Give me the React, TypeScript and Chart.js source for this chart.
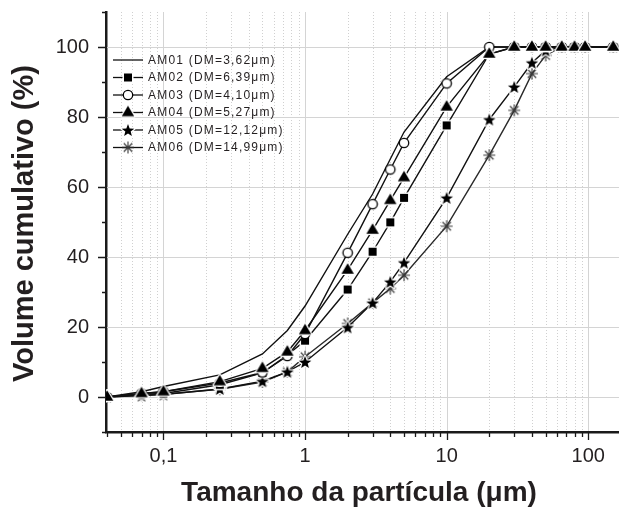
import React, { useEffect, useRef } from 'react';
import { Chart, registerables } from 'chart.js';

Chart.register(...registerables);

// Particle size classes (µm)
const sizes = [0.04, 0.07, 0.1, 0.25, 0.5, 0.75, 1, 2, 3, 4, 5, 10, 20, 30, 40, 50, 65, 80, 95, 150];

// Cumulative volume (%)
const am01 = [0, 1.5, 3, 6.3, 12.3, 19, 26, 46.5, 58, 68, 75.7, 91.5, 100, 100, 100, 100, 100, 100, 100, 100];
const am02 = [0, 0.8, 1, 3.5, 6.9, 12, 16.1, 30.7, 41.5, 49.9, 56.9, 77.6, 98, 100, 100, 100, 100, 100, 100, 100];
const am03 = [0, 1, 1.5, 4, 7, 11.7, 18, 41.2, 55.1, 65, 72.6, 89.6, 100, 100, 100, 100, 100, 100, 100, 100];
const am04 = [0, 1, 1.5, 4.4, 8.2, 12.9, 19, 36.3, 47.7, 56.2, 62.7, 82.9, 98, 100, 100, 100, 100, 100, 100, 100];
const am05 = [0, 0.4, 0.7, 2.3, 4.5, 7.2, 10, 19.9, 26.9, 32.9, 38.4, 56.9, 79.3, 88.6, 95.5, 99, 100, 100, 100, 100];
const am06 = [0, 0.5, 0.8, 2.2, 4.3, 7.2, 11.5, 21, 26.9, 31, 34.8, 48.8, 69.1, 81.9, 92.4, 97.6, 100, 100, 100, 100];

const seriesLabels = [
  'AM01 (DM=3,62\u03bcm)',
  'AM02 (DM=6,39\u03bcm)',
  'AM03 (DM=4,10\u03bcm)',
  'AM04 (DM=5,27\u03bcm)',
  'AM05 (DM=12,12\u03bcm)',
  'AM06 (DM=14,99\u03bcm)',
];
const seriesMarkers = ['none', 'square', 'circle', 'triangle', 'star', 'asterisk'];
// drawing order (lower = drawn on top)
const seriesOrder = [2, 3, 1, 0, 4, 5];

const xMajor = [0.1, 1, 10, 100];
const xMajorLabels = ['0,1', '1', '10', '100'];
const xMinor = [0.04, 0.05, 0.06, 0.07, 0.08, 0.09, 0.2, 0.3, 0.4, 0.5, 0.6, 0.7, 0.8, 0.9,
  2, 3, 4, 5, 6, 7, 8, 9, 20, 30, 40, 50, 60, 70, 80, 90];
const yMajor = [0, 20, 40, 60, 80, 100];
const yMinor = [-10, 10, 30, 50, 70, 90, 110];

const xTitle = 'Tamanho da partícula (\u03bcm)';
const yTitle = 'Volume cumulativo (%)';

const FONT = '"Liberation Sans", Arial, sans-serif';
const INK = '#231f20';

function makeMarker(kind: string): HTMLCanvasElement | false {
  if (kind === 'none') return false;
  const s = 18;
  const c = document.createElement('canvas');
  c.width = s;
  c.height = s;
  const g = c.getContext('2d') as CanvasRenderingContext2D;
  const m = s / 2;
  g.lineJoin = 'round';
  if (kind === 'square') {
    g.fillStyle = '#fff';
    g.fillRect(m - 5.5, m - 5.5, 11, 11);
    g.fillStyle = '#000';
    g.fillRect(m - 4, m - 4, 8, 8);
  } else if (kind === 'circle') {
    g.beginPath();
    g.arc(m, m, 4.7, 0, Math.PI * 2);
    g.fillStyle = '#fff';
    g.fill();
    g.lineWidth = 1.3;
    g.strokeStyle = '#000';
    g.stroke();
  } else if (kind === 'triangle') {
    g.beginPath();
    g.moveTo(m, m - 6.8);
    g.lineTo(m + 6.2, m + 3.8);
    g.lineTo(m - 6.2, m + 3.8);
    g.closePath();
    g.strokeStyle = '#fff';
    g.lineWidth = 2.5;
    g.stroke();
    g.fillStyle = '#000';
    g.fill();
  } else if (kind === 'star') {
    const R = 6.6, r = 2.8;
    g.beginPath();
    for (let k = 0; k < 10; k++) {
      const rad = k % 2 === 0 ? R : r;
      const a = -Math.PI / 2 + (k * Math.PI) / 5;
      const px = m + rad * Math.cos(a);
      const py = m + 0.7 + rad * Math.sin(a);
      if (k === 0) g.moveTo(px, py);
      else g.lineTo(px, py);
    }
    g.closePath();
    g.strokeStyle = '#fff';
    g.lineWidth = 2.5;
    g.stroke();
    g.fillStyle = '#000';
    g.fill();
  } else if (kind === 'asterisk') {
    g.strokeStyle = '#3a3a3a';
    g.lineWidth = 1.1;
    g.beginPath();
    for (let k = 0; k < 4; k++) {
      const a = (k * Math.PI) / 4;
      const dx = 6 * Math.cos(a), dy = 6 * Math.sin(a);
      g.moveTo(m - dx, m - dy);
      g.lineTo(m + dx, m + dy);
    }
    g.stroke();
  }
  return c;
}

const decorPlugin = {
  id: 'decor',
  beforeDatasetsDraw(chart: any) {
    const { ctx, chartArea: a, scales } = chart;
    const x = scales.x, y = scales.y;
    ctx.save();
    ctx.lineWidth = 1;
    ctx.strokeStyle = '#d0d0d0';
    ctx.setLineDash([1, 2]);
    for (const v of xMinor) {
      const px = Math.round(x.getPixelForValue(v)) + 0.5;
      if (px <= a.left + 2 || px >= a.right) continue;
      ctx.beginPath();
      ctx.moveTo(px, a.top);
      ctx.lineTo(px, a.bottom - 1);
      ctx.stroke();
    }
    ctx.setLineDash([]);
    ctx.strokeStyle = '#d4d4d4';
    for (const v of xMajor) {
      const px = Math.round(x.getPixelForValue(v)) + 0.5;
      ctx.beginPath();
      ctx.moveTo(px, a.top);
      ctx.lineTo(px, a.bottom - 1);
      ctx.stroke();
    }
    for (const v of yMajor) {
      const py = Math.round(y.getPixelForValue(v)) + 0.5;
      ctx.beginPath();
      ctx.moveTo(a.left + 1, py);
      ctx.lineTo(a.right, py);
      ctx.stroke();
    }
    ctx.restore();
  },
  afterDraw(chart: any) {
    const { ctx, chartArea: a, scales } = chart;
    const x = scales.x, y = scales.y;
    ctx.save();
    // tick marks
    ctx.strokeStyle = '#1a1a1a';
    ctx.lineWidth = 1.3;
    ctx.beginPath();
    for (const v of xMajor) {
      const px = Math.round(x.getPixelForValue(v)) + 0.5;
      ctx.moveTo(px, a.bottom);
      ctx.lineTo(px, a.bottom + 8);
    }
    for (const v of xMinor) {
      const px = Math.round(x.getPixelForValue(v)) + 0.5;
      ctx.moveTo(px, a.bottom);
      ctx.lineTo(px, a.bottom + 5);
    }
    for (const v of yMajor) {
      const py = Math.round(y.getPixelForValue(v)) + 0.5;
      ctx.moveTo(a.left - 8, py);
      ctx.lineTo(a.left, py);
    }
    for (const v of yMinor) {
      const py = Math.round(y.getPixelForValue(v)) + 0.5;
      ctx.moveTo(a.left - 4, py);
      ctx.lineTo(a.left, py);
    }
    ctx.stroke();

    // axis titles
    ctx.fillStyle = INK;
    ctx.font = `bold 28px ${FONT}`;
    ctx.textAlign = 'center';
    ctx.textBaseline = 'alphabetic';
    ctx.fillText(xTitle, 359, 501);
    ctx.save();
    ctx.translate(33, 223.5);
    ctx.rotate(-Math.PI / 2);
    ctx.font = `bold 29px ${FONT}`;
    ctx.fillText(yTitle, 0, 0);
    ctx.restore();

    // legend
    const rowY0 = 60;
    const step = 17.5;
    ctx.font = `12px ${FONT}`;
    (ctx as any).letterSpacing = '1.2px';
    ctx.textAlign = 'left';
    ctx.textBaseline = 'middle';
    chart.data.datasets.forEach((ds: any, i: number) => {
      const ry = rowY0 + i * step;
      ctx.strokeStyle = '#111';
      ctx.lineWidth = 1.3;
      ctx.beginPath();
      ctx.moveTo(113, ry);
      ctx.lineTo(143, ry);
      ctx.stroke();
      const mk = ds.pointStyle;
      if (mk && typeof mk === 'object') {
        ctx.drawImage(mk, 128 - mk.width / 2, ry - mk.height / 2);
      }
      ctx.fillStyle = INK;
      ctx.fillText(ds.label, 148, ry + 0.5);
    });
    ctx.restore();
  },
};

function zeroPadding(s: any) {
  s.paddingTop = 0;
  s.paddingBottom = 0;
  s.paddingLeft = 0;
  s.paddingRight = 0;
}

export default function App() {
  const ref = useRef<HTMLCanvasElement | null>(null);

  useEffect(() => {
    if (!ref.current) return;
    const all = [am01, am02, am03, am04, am05, am06];
    const datasets = all.map((vals, i) => {
      const mk = makeMarker(seriesMarkers[i]);
      return {
        label: seriesLabels[i],
        data: sizes.map((s, j) => ({ x: s, y: vals[j] })),
        order: seriesOrder[i],
        borderColor: i === 5 ? '#2a2a2a' : '#111',
        backgroundColor: '#111',
        borderWidth: 1.4,
        pointStyle: mk,
        pointRadius: mk ? 5 : 0,
        pointHoverRadius: mk ? 5 : 0,
        tension: 0,
        fill: false,
      };
    });

    const chart = new Chart(ref.current, {
      type: 'line',
      data: { datasets },
      options: {
        responsive: false,
        animation: false,
        devicePixelRatio: 1,
        layout: { autoPadding: false, padding: { top: 12, right: 0, bottom: 0, left: 0 } },
        plugins: {
          legend: { display: false },
          tooltip: { enabled: false },
        },
        scales: {
          x: {
            type: 'logarithmic',
            min: 0.0393,
            max: 164.8,
            afterBuildTicks: (s: any) => {
              s.ticks = xMajor.map((v) => ({ value: v }));
            },
            afterFit: (s: any) => {
              s.height = 80;
              zeroPadding(s);
            },
            ticks: {
              autoSkip: false,
              maxRotation: 0,
              padding: 4,
              color: INK,
              font: { family: FONT, size: 20 },
              callback: (v: any) => {
                const k = xMajor.indexOf(Number(v));
                return k >= 0 ? xMajorLabels[k] : '';
              },
            },
            grid: {
              display: true,
              drawOnChartArea: false,
              drawTicks: true,
              tickLength: 8,
              tickColor: 'rgba(0,0,0,0)',
            },
            border: { display: true, color: '#1a1a1a', width: 2.5 },
          },
          y: {
            type: 'linear',
            min: -10,
            max: 110,
            afterBuildTicks: (s: any) => {
              s.ticks = yMajor.map((v) => ({ value: v }));
            },
            afterFit: (s: any) => {
              s.width = 106;
              zeroPadding(s);
            },
            ticks: {
              autoSkip: false,
              padding: 9,
              color: INK,
              font: { family: FONT, size: 20 },
              callback: (v: any) => String(v),
            },
            grid: {
              display: true,
              drawOnChartArea: false,
              drawTicks: true,
              tickLength: 8,
              tickColor: 'rgba(0,0,0,0)',
            },
            border: { display: true, color: '#1a1a1a', width: 2.5 },
          },
        },
      },
      plugins: [decorPlugin],
    } as any);

    return () => chart.destroy();
  }, []);

  return (
    <div style={{ position: 'fixed', left: 0, top: 0, width: 619, height: 512, background: '#fff' }}>
      <canvas ref={ref} width={619} height={512} style={{ display: 'block', width: 619, height: 512 }} />
    </div>
  );
}
